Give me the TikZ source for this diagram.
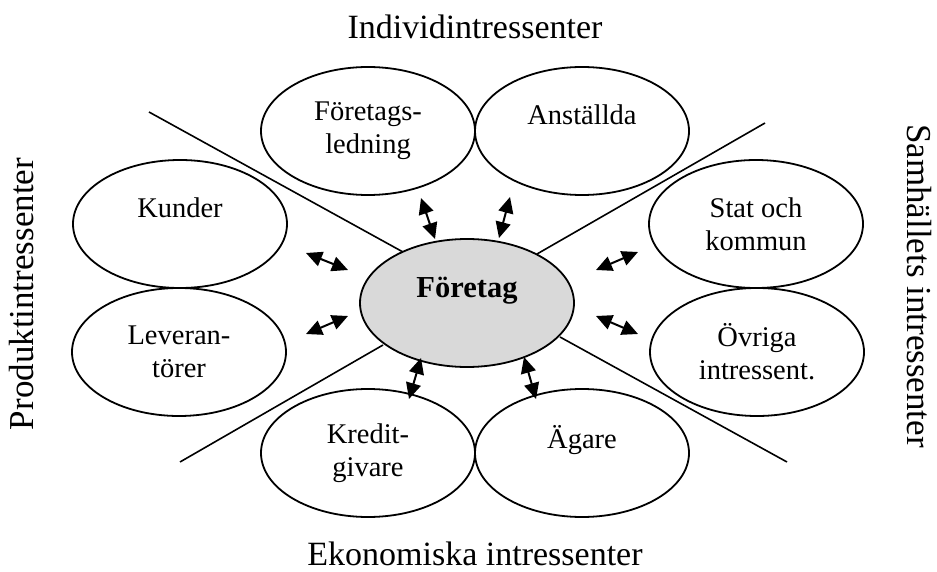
\documentclass[tikz,border=0pt]{standalone}
\usepackage{fontspec}
\setmainfont{Liberation Serif}
\usetikzlibrary{shapes.geometric,arrows.meta}
\begin{document}
\begin{tikzpicture}[x=1pt,y=-1pt,
  oval/.style={draw=black,line width=1.8pt,ellipse,minimum width=214pt,minimum height=128pt,inner sep=0pt,align=center,font=\fontsize{28.5}{33}\selectfont},
  core/.style={oval,fill={rgb,255:red,217;green,217;blue,217},font=\fontsize{30.5}{34}\selectfont\bfseries},
  divider/.style={line width=1.6pt},
  dbl/.style={line width=2pt,{Triangle[length=16pt,width=15pt]}-{Triangle[length=16pt,width=15pt]}},
  outer/.style={font=\fontsize{34}{38}\selectfont,inner sep=0pt},
  sideouter/.style={font=\fontsize{35}{38}\selectfont,inner sep=0pt}]
\useasboundingbox (0,0) rectangle (937,572);
% nodes
\node[core] (F) at (467,303) {Företag\\[-3pt]~};
\node[oval] (FL) at (368,131) {Företags-\\ledning};
\node[oval] (AN) at (582,131) {Anställda\\~};
\node[oval] (KU) at (180,224) {Kunder\\~};
\node[oval] (LE) at (179,352) {Leveran-\\törer};
\node[oval] (KR) at (368,453) {Kredit-\\givare};
\node[oval] (AG) at (582,453) {Ägare\\~};
\node[oval] (ST) at (756,224) {Stat och\\kommun};
\node[oval] (OV) at (757,352) {Övriga\\intressent.};
% outer labels
\node[outer,anchor=base] (top) at (475,39) {Individintressenter};
\node[outer,anchor=base] (bot) at (475,565) {Ekonomiska intressenter};
\node[sideouter,rotate=90,anchor=base] (left) at (33,294) {Produktintressenter};
\node[sideouter,rotate=-90,anchor=base] (right) at (907,286) {Samhällets intressenter};
% dividing lines
\coordinate (d1a) at (149,112); \coordinate (d1b) at (403,252);
\coordinate (d2a) at (765,123); \coordinate (d2b) at (537,254);
\coordinate (d3a) at (180,462); \coordinate (d3b) at (383,345);
\coordinate (d4a) at (787,462); \coordinate (d4b) at (560,337);
\draw[divider] (d1a) -- (d1b);
\draw[divider] (d2a) -- (d2b);
\draw[divider] (d3a) -- (d3b);
\draw[divider] (d4a) -- (d4b);
% arrows
\coordinate (a1a) at (421,198); \coordinate (a1b) at (435,239);
\coordinate (a2a) at (510,197); \coordinate (a2b) at (499,238);
\coordinate (a3a) at (306,253); \coordinate (a3b) at (348,270);
\coordinate (a4a) at (306,334); \coordinate (a4b) at (348,316);
\coordinate (a5a) at (421,358); \coordinate (a5b) at (409,399);
\coordinate (a6a) at (524,357); \coordinate (a6b) at (536,399);
\coordinate (a7a) at (596,270); \coordinate (a7b) at (638,252);
\coordinate (a8a) at (596,316); \coordinate (a8b) at (638,334);
\foreach \i in {1,...,8} {\draw[dbl] (a\i a) -- (a\i b);}
\end{tikzpicture}
\end{document}
